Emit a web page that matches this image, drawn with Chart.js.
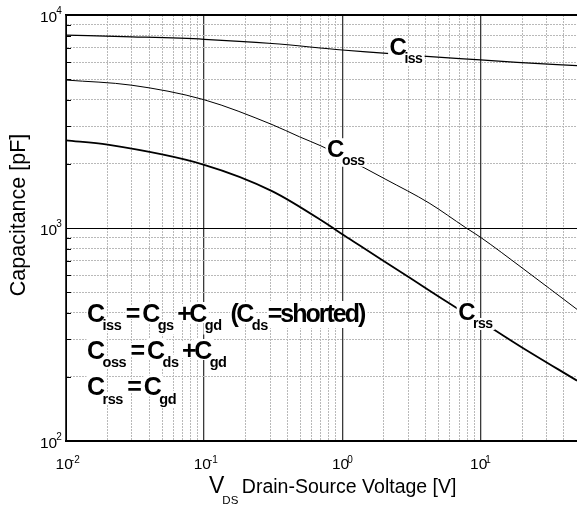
<!DOCTYPE html>
<html>
<head>
<meta charset="utf-8">
<title>Capacitance vs Drain-Source Voltage</title>
<script src="https://cdn.jsdelivr.net/npm/chart.js@4.4.1/dist/chart.umd.min.js"></script>
<style>
  html, body { margin: 0; padding: 0; background: #fff; overflow: hidden; }
  canvas { display: block; }
</style>
</head>
<body>
<canvas id="cap-chart" width="577" height="507"></canvas>
<script>
// values: V in volts, capacitance in pF
const cissV  = [0.01, 0.03, 0.1, 0.31, 1, 2.1, 3, 10, 18.4, 50];
const cissPF = [8050, 7900, 7690, 7350, 6850, 6610, 6480, 6150, 5995, 5780];

const cossV  = [0.01, 0.03, 0.1, 0.31, 0.49, 0.7, 1, 2.07, 4.25, 7.8, 10, 20, 50];
const cossPF = [4950, 4680, 4000, 3060, 2680, 2430, 2170, 1690, 1310, 1005, 905, 650, 415];

const crssV  = [0.01, 0.02, 0.1, 0.31, 0.8, 1, 1.33, 3, 6.6, 10, 20, 50];
const crssPF = [2580, 2460, 1980, 1490, 1030, 935, 830, 590, 425, 365, 275, 192];

// axes
const xMin = 0.01, xMax = 50;
const yMin = 100, yMax = 10000;
const xDecades = [0.01, 0.1, 1, 10];
const yDecades = [100, 1000, 10000];
const xTickExps = ['-2', '-1', '0', '1'];
const yTickExps = ['2', '3', '4'];

// curve names, anchored in data units (left end / baseline of the "C")
const curveLabels = [
    { sub: 'iss', v: 2.2, pf: 6490 },
    { sub: 'oss', v: 0.776, pf: 2161 },
    { sub: 'rss', v: 6.9, pf: 370 }
];

const formulaRows = [
    [['C', 0], ['iss', 1], [' = ', 0], ['C', 0], ['gs ', 1], ['+', 0], ['C', 0], ['gd', 1],
     ['  (', 0], ['C', 0], ['ds', 1], ['=shorted)', 0]],
    [['C', 0], ['oss', 1], [' = ', 0], ['C', 0], ['ds ', 1], ['+', 0], ['C', 0], ['gd', 1]],
    [['C', 0], ['rss', 1], [' = ', 0], ['C', 0], ['gd', 1]]
];
const formulaBaselines = [306.5, 343.5, 380];

const FONT = "'Liberation Sans', Arial, Helvetica, sans-serif";

function isDecade(v)
{
    const l = Math.log10(v);
    return Math.abs(l - Math.round(l)) < 1e-6;
}

function logTicks(decades, max)
{
    let out = [];
    decades.forEach((d) => {
        for (let m = 1; m <= 9; m++) {
            const v = +(d * m).toPrecision(6);
            if (v <= max) out.push({ value: v });
        }
    });
    return out;
}

function minorColor(c)
{
    return (c.tick && isDecade(c.tick.value)) ? 'rgba(0,0,0,0)' : '#b9b9b9';
}

// draws C + subscript pieces, white boxes first so no piece hides another
function rich(ctx, parts, x, y, bigSize, subSize, bg)
{
    let cx = x;
    let items = [];
    parts.forEach(([t, sub]) => {
        const size = sub ? subSize : bigSize;
        const font = 'bold ' + size + 'px ' + FONT;
        const spacing = sub ? '-0.5px' : (t.length > 3 ? '-2px' : '-2.5px');
        ctx.font = font;
        ctx.letterSpacing = spacing;
        const m = ctx.measureText(t);
        const by = sub ? y + 8.5 : y;
        items.push({ t, font, spacing, x: cx, y: by, m });
        cx += m.width;
    });
    if (bg) {
        ctx.fillStyle = '#fff';
        items.forEach((it) => {
            const m = it.m;
            if (!it.t.trim()) return;
            ctx.fillRect(it.x - m.actualBoundingBoxLeft - 1.5, it.y - m.actualBoundingBoxAscent - 1.5,
                m.actualBoundingBoxLeft + m.actualBoundingBoxRight + 3,
                m.actualBoundingBoxAscent + m.actualBoundingBoxDescent + 3);
        });
    }
    ctx.fillStyle = '#000';
    items.forEach((it) => {
        ctx.font = it.font;
        ctx.letterSpacing = it.spacing;
        ctx.fillText(it.t, it.x, it.y);
    });
    ctx.letterSpacing = '0px';
}

function series(label, vs, pfs, width)
{
    return {
        label: label,
        data: vs.map((v, i) => ({ x: v, y: pfs[i] })),
        borderColor: '#000',
        borderWidth: width,
        pointRadius: 0,
        fill: false,
        cubicInterpolationMode: 'monotone'
    };
}

const capAnnotations = {
    id: 'capAnnotations',
    beforeDatasetsDraw(chart) {
        // short inner tick marks on the left frame
        const { ctx, chartArea: a, scales: { y } } = chart;
        ctx.save();
        ctx.strokeStyle = '#000';
        ctx.lineWidth = 1;
        y.ticks.forEach((t) => {
            const py = Math.round(y.getPixelForValue(t.value)) + 0.5;
            if (py <= a.top + 1 || py >= a.bottom - 1) return;
            ctx.beginPath();
            ctx.moveTo(a.left, py);
            ctx.lineTo(a.left + 5, py);
            ctx.stroke();
        });
        ctx.restore();
    },
    afterDatasetsDraw(chart) {
        const { ctx, chartArea: a, scales: { x, y } } = chart;
        ctx.save();
        ctx.textBaseline = 'alphabetic';
        curveLabels.forEach((l) => {
            rich(ctx, [['C', 0], [l.sub, 1]], x.getPixelForValue(l.v), y.getPixelForValue(l.pf), 24, 14, true);
        });
        formulaRows.forEach((row, i) => {
            rich(ctx, row, a.left + 21, a.top + formulaBaselines[i], 25, 14.5, true);
        });
        ctx.restore();
    },
    afterDraw(chart) {
        const { ctx, chartArea: a, scales: { x, y } } = chart;
        ctx.save();
        ctx.fillStyle = '#000';
        ctx.textBaseline = 'alphabetic';
        ctx.textAlign = 'left';

        // tick labels 10^n
        xDecades.forEach((v, i) => {
            const px = x.getPixelForValue(v);
            ctx.font = '15.5px ' + FONT;
            const w = ctx.measureText('10').width;
            ctx.fillText('10', px - 10.4, a.bottom + 28.3);
            ctx.font = '10px ' + FONT;
            ctx.fillText(xTickExps[i], px - 10.4 + w - 2, a.bottom + 21.7);
        });
        yDecades.forEach((v, i) => {
            const py = y.getPixelForValue(v);
            ctx.font = '15.5px ' + FONT;
            const w = ctx.measureText('10').width;
            ctx.fillText('10', a.left - 26, py + 7.3);
            ctx.font = '10px ' + FONT;
            ctx.fillText(yTickExps[i], a.left - 26 + w - 1, py - 1);
        });

        // x title with V_DS subscript
        let tx = a.left + 143;
        const ty = a.bottom + 52;
        ctx.font = '23px ' + FONT;
        ctx.fillText('V', tx, ty);
        tx += ctx.measureText('V').width;
        ctx.font = '11.5px ' + FONT;
        ctx.fillText('DS', tx - 2, ty + 11.3);
        tx += ctx.measureText('DS').width + 1.5;
        ctx.font = '19.5px ' + FONT;
        ctx.fillText('Drain-Source Voltage [V]', tx, ty);

        // y title
        ctx.translate(25, a.top + 200);
        ctx.rotate(-Math.PI / 2);
        ctx.textAlign = 'center';
        ctx.font = '21.5px ' + FONT;
        ctx.fillText('Capacitance [pF]', 0, 0);
        ctx.restore();
    }
};

new Chart(document.getElementById('cap-chart'), {
    type: 'line',
    data: {
        datasets: [
            series('Ciss', cissV, cissPF, 1.2),
            series('Coss', cossV, cossPF, 1),
            series('Crss', crssV, crssPF, 1.8)
        ]
    },
    options: {
        responsive: false,
        animation: false,
        devicePixelRatio: 1,
        layout: { padding: { left: 66, top: 15, right: 0, bottom: 66 } },
        plugins: {
            legend: { display: false },
            tooltip: { enabled: false }
        },
        scales: {
            x: {
                type: 'logarithmic',
                position: 'bottom',
                min: xMin,
                max: xMax,
                afterBuildTicks: (s) => { s.ticks = logTicks(xDecades, xMax); },
                ticks: { display: false },
                grid: { color: minorColor, lineWidth: 1, drawTicks: false },
                border: { display: true, color: '#000', width: 2, dash: [2, 1] }
            },
            xMajor: {
                type: 'logarithmic',
                position: 'bottom',
                min: xMin,
                max: xMax,
                afterBuildTicks: (s) => { s.ticks = xDecades.map((v) => ({ value: v })); },
                ticks: { display: false },
                grid: { color: '#3a3a3a', lineWidth: 1.3, drawTicks: false },
                border: { display: false }
            },
            xTop: {
                type: 'logarithmic',
                position: 'top',
                min: xMin,
                max: xMax,
                afterBuildTicks: (s) => { s.ticks = xDecades.map((v) => ({ value: v })); },
                ticks: { display: false },
                grid: { display: false, drawTicks: false },
                border: { display: true, color: '#000', width: 1.5 }
            },
            y: {
                type: 'logarithmic',
                position: 'left',
                min: yMin,
                max: yMax,
                afterBuildTicks: (s) => { s.ticks = logTicks(yDecades, yMax); },
                ticks: { display: false },
                grid: { color: minorColor, lineWidth: 1, drawTicks: false },
                border: { display: true, color: '#000', width: 1, dash: [2, 1] }
            },
            yMajor: {
                type: 'logarithmic',
                position: 'left',
                min: yMin,
                max: yMax,
                afterBuildTicks: (s) => { s.ticks = yDecades.map((v) => ({ value: v })); },
                ticks: { display: false },
                grid: { color: '#000', lineWidth: 1, drawTicks: false },
                border: { display: false }
            }
        }
    },
    plugins: [capAnnotations]
});
</script>
</body>
</html>
